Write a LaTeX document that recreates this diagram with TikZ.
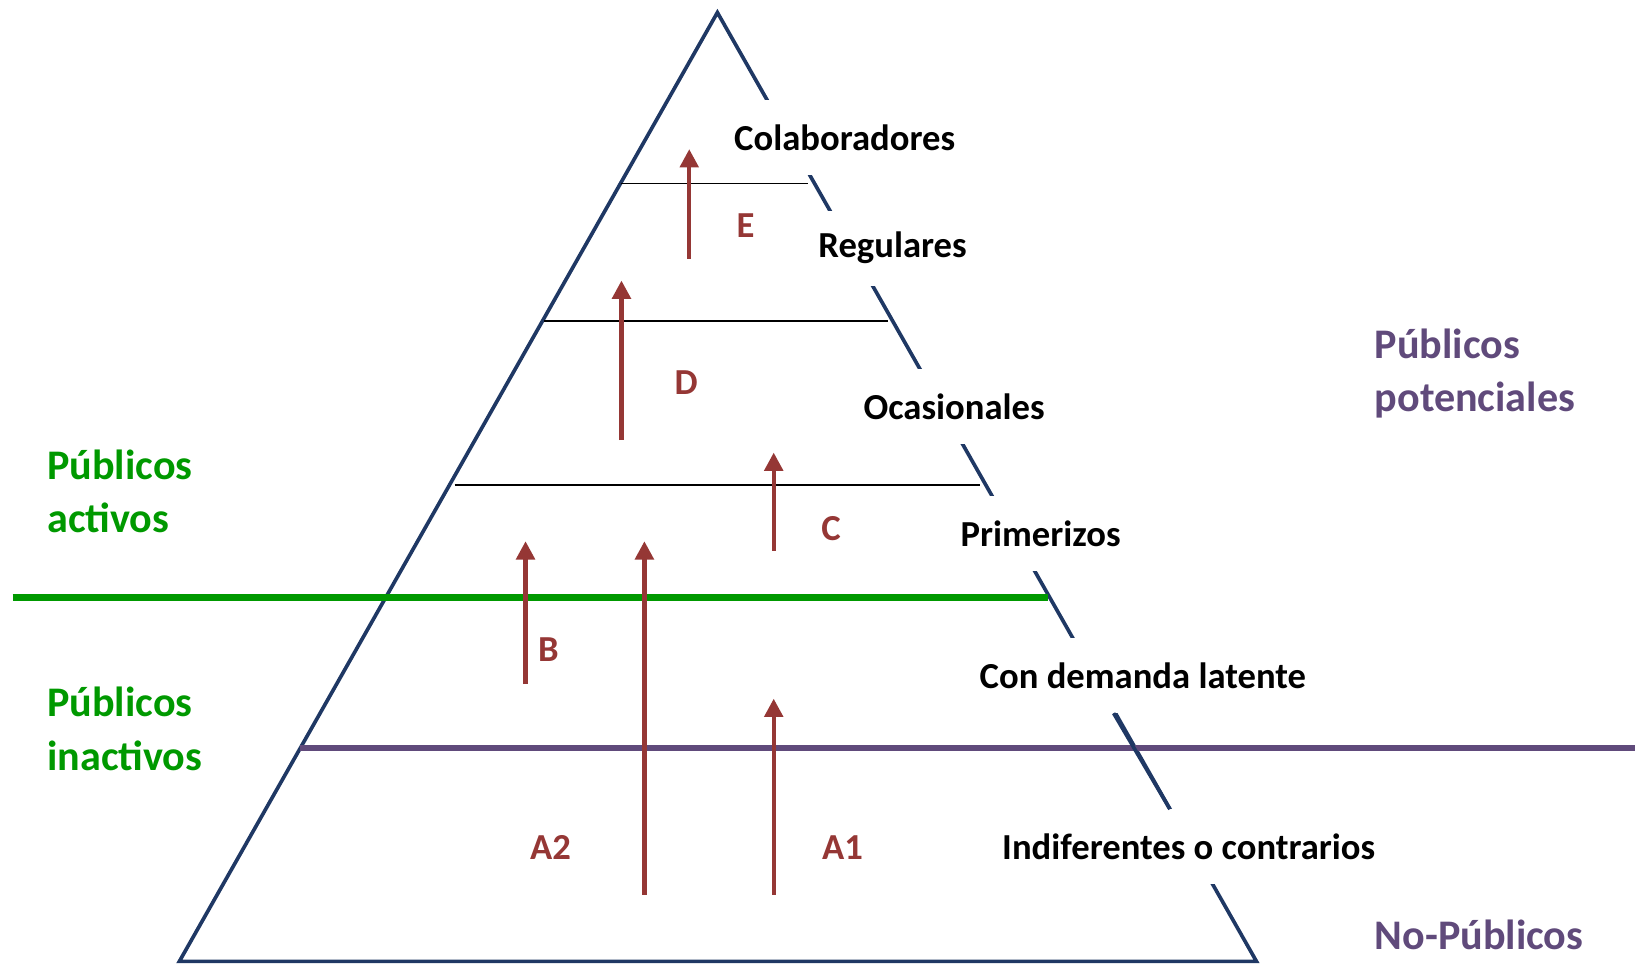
\documentclass[tikz,border=0pt]{standalone}
\usepackage{fontspec}
\setmainfont{Carlito}
\usetikzlibrary{arrows.meta}
\definecolor{azul}{RGB}{31,56,100}
\definecolor{verde}{RGB}{0,153,0}
\definecolor{morado}{RGB}{96,74,123}
\definecolor{rojo}{RGB}{149,55,53}
\begin{document}
\begin{tikzpicture}[x=0.02cm,y=-0.02cm,
  lado/.style={draw=azul,line width=2pt},
  divisor/.style={draw=black,line width=0.8pt},
  nivel/.style={fill=white,inner xsep=2pt,minimum height=1.44cm,font=\fontsize{20}{24}\selectfont\bfseries},
  letra/.style={text=rojo,font=\fontsize{20}{24}\selectfont\bfseries},
  grupo/.style={anchor=west,align=left,inner sep=0pt,font=\fontsize{23}{29}\selectfont\bfseries},
  flecha/.style={draw=rojo,line width=2.4pt,-{Triangle[width=10pt,length=10pt]}}]
\useasboundingbox (0,0) rectangle (1568,924);
% piramide
\coordinate (cima) at (688,12);
\coordinate (bi) at (172,922);
\coordinate (bd) at (1205,922);
\draw[lado] (cima) -- (bi) -- (bd) -- cycle;
\draw[divisor] (596,176) -- (775,176);
\draw[divisor] (522,308) -- (852,308);
\draw[divisor] (436,465) -- (940,465);
% niveles
\node[nivel] (colab) at (810,132) {Colaboradores};
\node[nivel] (regul) at (856,238) {Regulares};
\node[nivel] (ocas) at (915,390) {Ocasionales};
\node[nivel] (prim) at (998,512) {Primerizos};
\node[nivel] (latente) at (1096,648) {Con demanda latente};
\node[nivel] (indif) at (1140,812) {Indiferentes o contrarios};
% limites
\draw[draw=verde,line width=3.6pt] (12,573) -- (1005,573);
\draw[draw=morado,line width=3.2pt] (288,717) -- (1568,717);
\draw[lado] (1068,684) -- (1122,776);
% flechas
\coordinate (e0) at (661,248); \coordinate (e1) at (661,143);
\coordinate (d0) at (596,422); \coordinate (d1) at (596,269);
\coordinate (c0) at (742,528); \coordinate (c1) at (742,434);
\coordinate (b0) at (504,656); \coordinate (b1) at (504,519);
\coordinate (a20) at (618,858); \coordinate (a21) at (618,519);
\coordinate (a10) at (742,858); \coordinate (a11) at (742,670);
\draw[flecha] (e0) -- (e1);
\draw[flecha] (d0) -- (d1);
\draw[flecha] (c0) -- (c1);
\draw[flecha] (b0) -- (b1);
\draw[flecha] (a20) -- (a21);
\draw[flecha] (a10) -- (a11);
\node[letra] (le) at (715,216) {E};
\node[letra] (ld) at (658,367) {D};
\node[letra] (lc) at (797,507) {C};
\node[letra] (lb) at (526,623) {B};
\node[letra] (la2) at (528,813) {A2};
\node[letra] (la1) at (808,813) {A1};
% publicos
\node[grupo,text=morado] (potenc) at (1318,358) {Públicos\\potenciales};
\node[grupo,text=verde] (activ) at (45,471) {Públicos\\activos};
\node[grupo,text=verde] (inactiv) at (45,699) {Públicos\\inactivos};
\node[grupo,text=morado] (nopub) at (1318,897) {No-Públicos};
\end{tikzpicture}
\end{document}
